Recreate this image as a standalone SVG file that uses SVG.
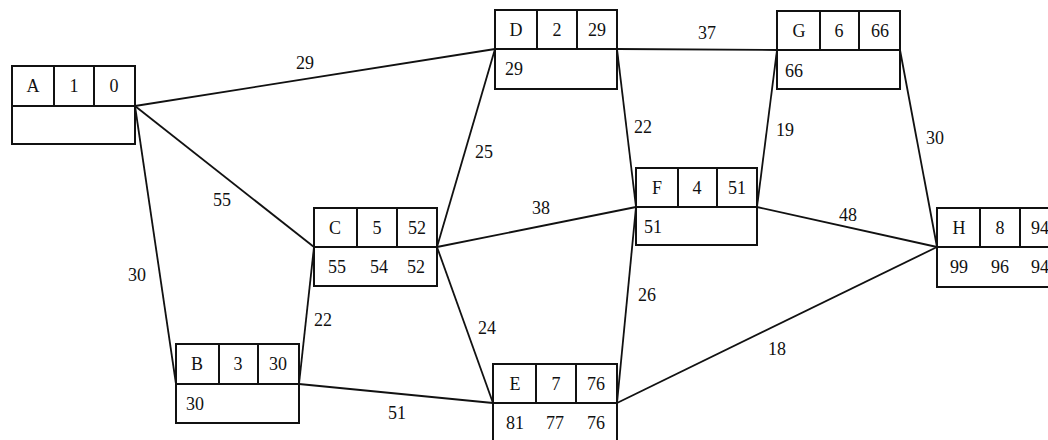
<svg xmlns="http://www.w3.org/2000/svg" width="1048" height="440" viewBox="0 0 1048 440">
<style>
.box{fill:#fff;stroke:#111;stroke-width:2}
.div{stroke:#111;stroke-width:2}
.edge{stroke:#111;stroke-width:1.8;fill:none}
text{font-family:"Liberation Serif","DejaVu Serif",serif;font-size:18px;fill:#111}
.c{text-anchor:middle}
</style>
<rect width="1048" height="440" fill="#fff"/>
<g id="connectors">
<line class="edge" x1="135" y1="106" x2="495" y2="49"/>
<line class="edge" x1="135" y1="106" x2="314" y2="247"/>
<line class="edge" x1="135" y1="106" x2="176" y2="384"/>
<line class="edge" x1="299" y1="384" x2="314" y2="247"/>
<line class="edge" x1="299" y1="384" x2="493" y2="403"/>
<line class="edge" x1="437" y1="247" x2="495" y2="49"/>
<line class="edge" x1="437" y1="247" x2="636" y2="207"/>
<line class="edge" x1="437" y1="247" x2="493" y2="403"/>
<line class="edge" x1="617" y1="49" x2="777" y2="50"/>
<line class="edge" x1="617" y1="49" x2="636" y2="207"/>
<line class="edge" x1="617" y1="403" x2="636" y2="207"/>
<line class="edge" x1="757" y1="207" x2="777" y2="50"/>
<line class="edge" x1="757" y1="207" x2="937" y2="247"/>
<line class="edge" x1="617" y1="403" x2="937" y2="247"/>
<line class="edge" x1="900" y1="50" x2="937" y2="247"/>
<text class="c" x="305" y="69">29</text>
<text class="c" x="222" y="206">55</text>
<text class="c" x="137" y="281">30</text>
<text class="c" x="323" y="326">22</text>
<text class="c" x="397" y="419">51</text>
<text class="c" x="484" y="158">25</text>
<text class="c" x="541" y="214">38</text>
<text class="c" x="487" y="334">24</text>
<text class="c" x="707" y="39">37</text>
<text class="c" x="643" y="133">22</text>
<text class="c" x="647" y="301">26</text>
<text class="c" x="785" y="136">19</text>
<text class="c" x="848" y="221">48</text>
<text class="c" x="777" y="355">18</text>
<text class="c" x="935" y="144">30</text>
</g>
<g id="A">
<rect class="box" x="12" y="66" width="123" height="78"/>
<line class="div" x1="12" y1="106" x2="135" y2="106"/>
<line class="div" x1="54" y1="66" x2="54" y2="106"/>
<line class="div" x1="94" y1="66" x2="94" y2="106"/>
<text class="c" x="33" y="92">A</text><text class="c" x="74" y="92">1</text><text class="c" x="114" y="92">0</text>
</g>
<g id="D">
<rect class="box" x="495" y="10" width="122" height="79"/>
<line class="div" x1="495" y1="49" x2="617" y2="49"/>
<line class="div" x1="537" y1="10" x2="537" y2="49"/>
<line class="div" x1="577" y1="10" x2="577" y2="49"/>
<text class="c" x="516" y="36">D</text><text class="c" x="557" y="36">2</text><text class="c" x="597" y="36">29</text>
<text x="505" y="75">29</text>
</g>
<g id="C">
<rect class="box" x="314" y="208" width="123" height="78"/>
<line class="div" x1="314" y1="247" x2="437" y2="247"/>
<line class="div" x1="357" y1="208" x2="357" y2="247"/>
<line class="div" x1="397" y1="208" x2="397" y2="247"/>
<text class="c" x="335" y="234">C</text><text class="c" x="377" y="234">5</text><text class="c" x="417" y="234">52</text>
<text class="c" x="337" y="273">55</text><text class="c" x="379" y="273">54</text><text class="c" x="416" y="273">52</text>
</g>
<g id="B">
<rect class="box" x="176" y="344" width="123" height="79"/>
<line class="div" x1="176" y1="384" x2="299" y2="384"/>
<line class="div" x1="219" y1="344" x2="219" y2="384"/>
<line class="div" x1="258" y1="344" x2="258" y2="384"/>
<text class="c" x="197" y="370">B</text><text class="c" x="238" y="370">3</text><text class="c" x="278" y="370">30</text>
<text x="186" y="410">30</text>
</g>
<g id="E">
<rect class="box" x="493" y="364" width="124" height="80"/>
<line class="div" x1="493" y1="403" x2="617" y2="403"/>
<line class="div" x1="536" y1="364" x2="536" y2="403"/>
<line class="div" x1="576" y1="364" x2="576" y2="403"/>
<text class="c" x="515" y="390">E</text><text class="c" x="556" y="390">7</text><text class="c" x="596" y="390">76</text>
<text class="c" x="515" y="429">81</text><text class="c" x="555" y="429">77</text><text class="c" x="596" y="429">76</text>
</g>
<g id="F">
<rect class="box" x="636" y="168" width="121" height="77"/>
<line class="div" x1="636" y1="207" x2="757" y2="207"/>
<line class="div" x1="678" y1="168" x2="678" y2="207"/>
<line class="div" x1="717" y1="168" x2="717" y2="207"/>
<text class="c" x="657" y="194">F</text><text class="c" x="697" y="194">4</text><text class="c" x="737" y="194">51</text>
<text x="644" y="233">51</text>
</g>
<g id="G">
<rect class="box" x="777" y="11" width="123" height="78"/>
<line class="div" x1="777" y1="50" x2="900" y2="50"/>
<line class="div" x1="820" y1="11" x2="820" y2="50"/>
<line class="div" x1="859" y1="11" x2="859" y2="50"/>
<text class="c" x="799" y="37">G</text><text class="c" x="839" y="37">6</text><text class="c" x="880" y="37">66</text>
<text x="785" y="77">66</text>
</g>
<g id="H">
<rect class="box" x="937" y="208" width="123" height="79"/>
<line class="div" x1="937" y1="247" x2="1060" y2="247"/>
<line class="div" x1="980" y1="208" x2="980" y2="247"/>
<line class="div" x1="1020" y1="208" x2="1020" y2="247"/>
<text class="c" x="959" y="234">H</text><text class="c" x="1000" y="234">8</text><text class="c" x="1040" y="234">94</text>
<text class="c" x="959" y="273">99</text><text class="c" x="1000" y="273">96</text><text class="c" x="1040" y="273">94</text>
</g>
</svg>
